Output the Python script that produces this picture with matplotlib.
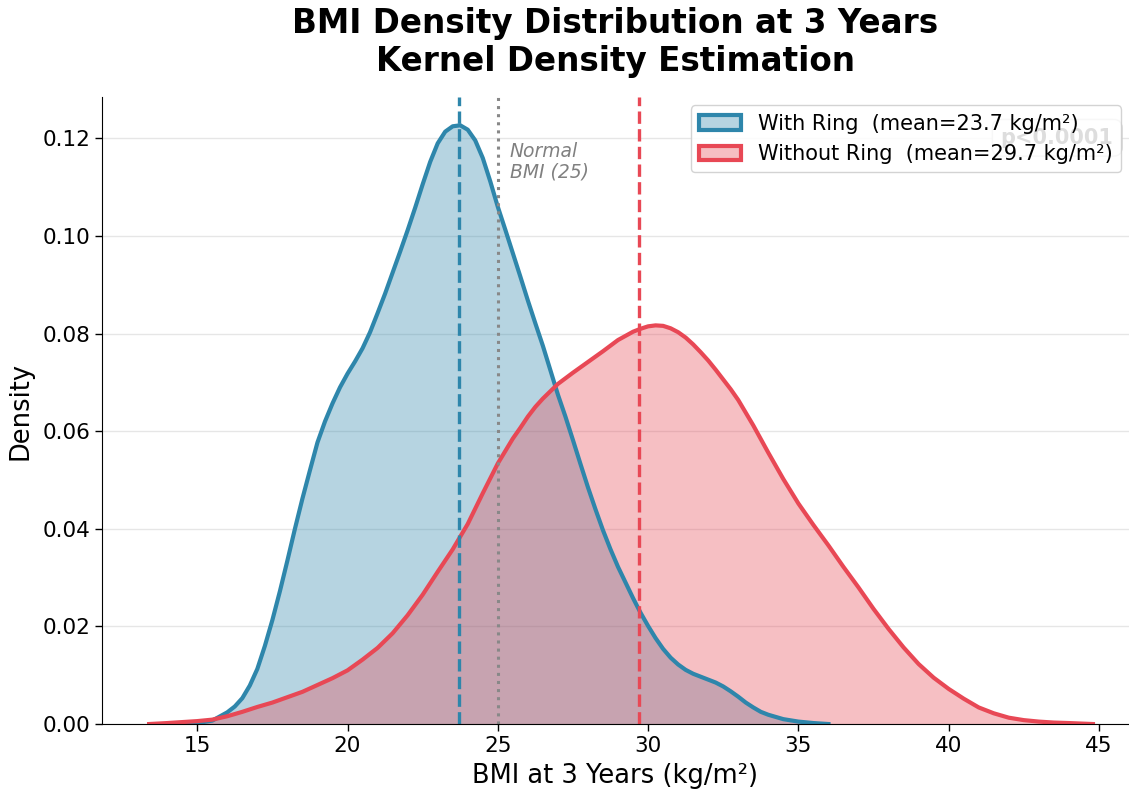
import matplotlib
matplotlib.use("Agg")
import matplotlib.pyplot as plt
from matplotlib.patches import Patch

# KDE curves (BMI, density)
ring_x = [14.0, 14.5, 15.0, 15.5, 16.0, 16.25, 16.5, 16.75, 17.0, 17.25, 17.5, 17.75,
          18.0, 18.25, 18.5, 18.75, 19.0, 19.25, 19.5, 19.75, 20.0, 20.25, 20.5, 20.75,
          21.0, 21.25, 21.5, 21.75, 22.0, 22.25, 22.5, 22.75, 23.0, 23.25, 23.5, 23.75,
          24.0, 24.25, 24.5, 24.75, 25.0, 25.25, 25.5, 25.75, 26.0, 26.25, 26.5, 26.75,
          27.0, 27.25, 27.5, 27.75, 28.0, 28.25, 28.5, 28.75, 29.0, 29.25, 29.5, 29.75,
          30.0, 30.25, 30.5, 30.75, 31.0, 31.25, 31.5, 31.75, 32.0, 32.25, 32.5, 32.75,
          33.0, 33.25, 33.5, 33.75, 34.0, 34.5, 35.0, 35.5, 36.0]
ring_d = [0.0000, 0.0001, 0.0002, 0.0007, 0.0024, 0.0036, 0.0053, 0.0079, 0.0113,
          0.0160, 0.0213, 0.0272, 0.0335, 0.0400, 0.0462, 0.0520, 0.0577, 0.0620,
          0.0657, 0.0690, 0.0718, 0.0743, 0.0770, 0.0803, 0.0842, 0.0882, 0.0925,
          0.0968, 0.1012, 0.1058, 0.1106, 0.1152, 0.1190, 0.1214, 0.1225, 0.1227,
          0.1218, 0.1196, 0.1160, 0.1112, 0.1060, 0.1013, 0.0965, 0.0917, 0.0868,
          0.0821, 0.0775, 0.0725, 0.0675, 0.0630, 0.0582, 0.0533, 0.0485, 0.0440,
          0.0397, 0.0358, 0.0322, 0.0290, 0.0258, 0.0228, 0.0201, 0.0176, 0.0154,
          0.0136, 0.0122, 0.0111, 0.0103, 0.0097, 0.0091, 0.0085, 0.0077, 0.0067,
          0.0056, 0.0044, 0.0034, 0.0025, 0.0019, 0.0010, 0.0005, 0.0002, 0.0000]

noring_x = [13.4, 14.0, 14.5, 15.0, 15.5, 16.0, 16.5, 17.0, 17.5, 18.0, 18.5, 19.0,
            19.5, 20.0, 20.5, 21.0, 21.5, 22.0, 22.5, 23.0, 23.5, 24.0, 24.5, 25.0,
            25.5, 25.75, 26.0, 26.25, 26.5, 26.75, 27.0, 27.5, 28.0, 28.5, 29.0, 29.5,
            29.75, 30.0, 30.25, 30.5, 30.75, 31.0, 31.25, 31.5, 31.75, 32.0, 32.25,
            32.5, 32.75, 33.0, 33.5, 34.0, 34.5, 35.0, 35.5, 36.0,
            36.5, 37.0, 37.5, 38.0, 38.5, 39.0, 39.5, 40.0, 40.5, 41.0, 41.5, 42.0,
            42.5, 43.0, 43.5, 44.0, 44.8]
noring_d = [0.0000, 0.0002, 0.0004, 0.0006, 0.0009, 0.0016, 0.0025, 0.0035, 0.0044,
            0.0055, 0.0066, 0.0080, 0.0094, 0.0110, 0.0132, 0.0156, 0.0186, 0.0223,
            0.0265, 0.0312, 0.0358, 0.0410, 0.0473, 0.0534, 0.0585, 0.0607, 0.0630,
            0.0650, 0.0667, 0.0682, 0.0697, 0.0720, 0.0742, 0.0764, 0.0787, 0.0804,
            0.0810, 0.0815, 0.0817, 0.0816, 0.0811, 0.0803, 0.0792, 0.0778, 0.0762,
            0.0745, 0.0726, 0.0706, 0.0686, 0.0664, 0.0612, 0.0556, 0.0502, 0.0452,
            0.0408, 0.0366, 0.0322, 0.0280, 0.0236, 0.0195, 0.0157, 0.0123, 0.0095,
            0.0072, 0.0052, 0.0034, 0.0022, 0.0013, 0.0008, 0.0005, 0.0003, 0.0002,
            0.0000]

ring_mean = 23.7
noring_mean = 29.7
normal_bmi = 25
p_text = "p<0.0001"

BLUE = "#2E86AB"
RED = "#E84855"

plt.rcParams["font.family"] = ["DejaVu Sans"]

fig = plt.figure(figsize=(11.29, 7.9), dpi=100, facecolor="white")
ax = fig.add_axes([0.0903, 0.0835, 0.9097, 0.7937])

# Densities
ax.fill_between(ring_x, ring_d, color=BLUE, alpha=0.35, linewidth=0)
ax.plot(ring_x, ring_d, color=BLUE, linewidth=3, solid_joinstyle="round")
ax.fill_between(noring_x, noring_d, color=RED, alpha=0.35, linewidth=0)
ax.plot(noring_x, noring_d, color=RED, linewidth=3, solid_joinstyle="round")

# Reference lines
ax.axvline(ring_mean, color=BLUE, linestyle="--", linewidth=2.4)
ax.axvline(noring_mean, color=RED, linestyle="--", linewidth=2.4)
ax.axvline(normal_bmi, color="#888888", linestyle=":", linewidth=2.2)
ax.text(normal_bmi + 0.4, 0.1192, "Normal\nBMI (25)", fontsize=13.5, style="italic",
        color="#808080", va="top", ha="left", linespacing=1.05)

ax.set_xlim(11.83, 46.0)
ax.set_ylim(0, 0.1285)
ax.set_xticks([15, 20, 25, 30, 35, 40, 45])
ax.set_yticks([0.00, 0.02, 0.04, 0.06, 0.08, 0.10, 0.12])
ax.yaxis.set_major_formatter(plt.FuncFormatter(lambda v, _: f"{v:.2f}"))

ax.grid(True, axis="y", color="#e6e6e6", linewidth=1.0, zorder=0)
ax.set_axisbelow(True)
ax.spines["top"].set_visible(False)
ax.spines["right"].set_visible(False)
ax.tick_params(axis="both", labelsize=15.5, length=5, width=1)

ax.set_xlabel("BMI at 3 Years (kg/m²)", fontsize=18.5, labelpad=5)
ax.set_ylabel("Density", fontsize=18.5, labelpad=6)
ax.set_title("BMI Density Distribution at 3 Years\nKernel Density Estimation",
             fontsize=23.5, fontweight="bold", pad=18.5)

# p-value box sits under the legend
ax.text(0.985, 0.935, p_text, transform=ax.transAxes, ha="right", va="center",
        fontsize=15, fontweight="bold", color="#222222", zorder=3,
        bbox=dict(boxstyle="round,pad=0.4", facecolor="white", edgecolor="#cccccc"))

handles = [
    Patch(facecolor=(0.18, 0.525, 0.67, 0.35), edgecolor=BLUE, linewidth=3,
          label=f"With Ring  (mean={ring_mean} kg/m²)"),
    Patch(facecolor=(0.91, 0.282, 0.333, 0.35), edgecolor=RED, linewidth=3,
          label=f"Without Ring  (mean={noring_mean} kg/m²)"),
]
leg = ax.legend(handles=handles, loc="upper right", fontsize=15, framealpha=0.85,
                borderaxespad=0.4)
leg.set_zorder(10)

plt.savefig("out.png", dpi=100, facecolor="white")
plt.close()
